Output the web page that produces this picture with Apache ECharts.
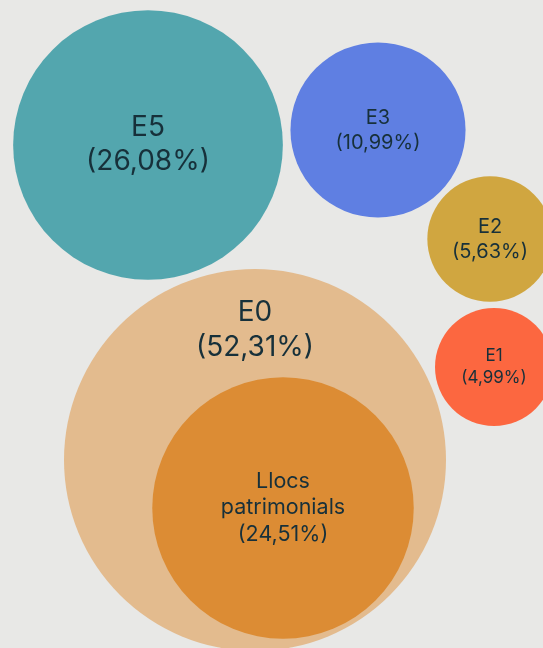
<!DOCTYPE html>
<html>
<head>
<meta charset="utf-8">
<script src="https://cdn.jsdelivr.net/npm/echarts@6/dist/echarts.min.js"></script>
<style>
html,body{margin:0;padding:0;background:#e8e8e6;}
#c{width:543px;height:648px;}
</style>
</head>
<body>
<div id="c"></div>
<script>
// Data
var categories = ["E0", "Llocs patrimonials", "E5", "E3", "E2", "E1"];
var shares = [52.31, 24.51, 26.08, 10.99, 5.63, 4.99];
// Packing layout (centres in the chart's layout space)
var packX = [255, 283, 148, 378, 490, 494];
var packY = [460, 508, 145, 130, 239, 367];
// Styles
var colors = ["#e3bb8e", "#dc8c34", "#53a6ae", "#5f7fe2", "#d0a640", "#fc6740"];
var labelSizes = [28, 21.5, 28, 20, 20, 17];
var labelLines = [35, 26.5, 34, 25, 25, 22];
var labelOffsets = [[0, -130], [0, 0], [0, 0], [0, 0], [0, 0], [0, 0]];
var displayNames = ["E0", "Llocs\npatrimonials", "E5", "E3", "E2", "E1"];

var pxPerSqrt = 191 / Math.sqrt(52.31);

function fmt(v) { return v.toFixed(2).replace('.', ','); }

var data = categories.map(function (c, i) {
  return {
    name: c,
    value: [packX[i], packY[i], shares[i]],
    symbolSize: 2 * pxPerSqrt * Math.sqrt(shares[i]),
    itemStyle: { color: colors[i], opacity: 1 },
    label: {
      show: true,
      position: 'inside',
      offset: labelOffsets[i],
      formatter: displayNames[i] + '\n(' + fmt(shares[i]) + '%)',
      fontSize: labelSizes[i],
      lineHeight: labelLines[i],
      color: '#17303a',
      fontFamily: 'Inter',
      align: 'center'
    }
  };
});

var chart = echarts.init(document.getElementById('c'), null, { renderer: 'canvas' });
chart.setOption({
  backgroundColor: '#e8e8e6',
  animation: false,
  grid: { left: 0, right: 0, top: 0, bottom: 0 },
  xAxis: { type: 'value', min: 0, max: 543, show: false },
  yAxis: { type: 'value', min: 0, max: 648, inverse: true, show: false },
  series: [{
    type: 'scatter',
    symbol: 'circle',
    clip: false,
    data: data,
    emphasis: { disabled: true }
  }]
});
</script>
</body>
</html>
